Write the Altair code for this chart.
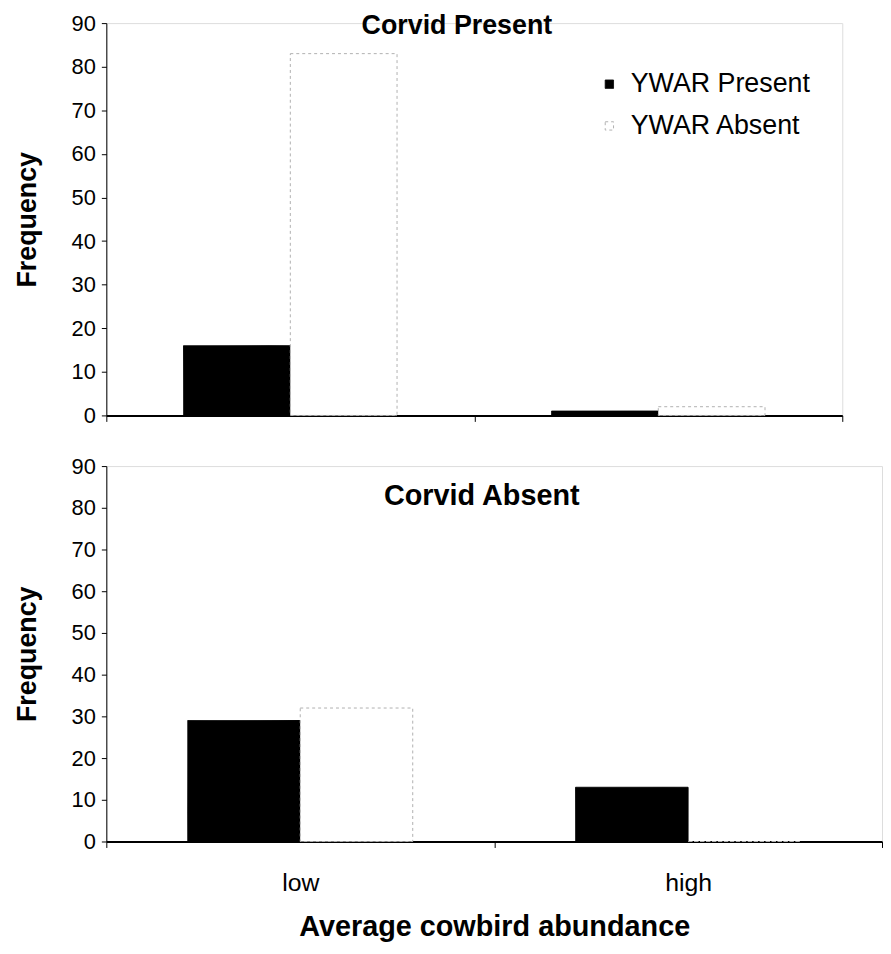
import altair as alt
import pandas as pd

abundance = ["low", "high"]
ywar = ["YWAR Present", "YWAR Absent"]
# values in order: (low, present), (low, absent), (high, present), (high, absent)
corvid_present_vals = [16, 83, 1, 2]
corvid_absent_vals = [29, 32, 13, 0]
y_ticks = [0, 10, 20, 30, 40, 50, 60, 70, 80, 90]

def make_df(vals):
    rows = []
    i = 0
    for a in abundance:
        for w in ywar:
            rows.append({"abundance": a, "ywar": w, "freq": vals[i]})
            i += 1
    return pd.DataFrame(rows)

FONT = "Liberation Sans"

def panel(vals, title_text, tx, ty, tsize, w, h, bottom, show_legend):
    df = make_df(vals)
    x_axis = alt.Axis(
        labels=bottom, title="Average cowbird abundance" if bottom else None,
        tickBand="extent", ticks=True, tickSize=6, tickColor="black",
        domainColor="black", domainWidth=2, labelAngle=0,
        labelFontSize=25, labelColor="black", labelPadding=23,
        titleFontSize=29, titleFontWeight="bold", titleColor="black",
        titlePadding=18, labelFont=FONT, titleFont=FONT,
    )
    legend = alt.Legend(
        orient="none", legendX=493, legendY=48, title=None,
        symbolType="square", symbolSize=70, symbolStrokeColor="#999999",
        symbolStrokeWidth=1, labelFontSize=27, labelFont=FONT, labelColor="black",
        rowPadding=14, labelOffset=8, padding=0, labelLimit=400,
    ) if show_legend else None
    bars = alt.Chart(df).mark_bar(strokeWidth=1).encode(
        x=alt.X("abundance:N", sort=abundance, axis=x_axis,
                scale=alt.Scale(paddingInner=0, paddingOuter=0)),
        xOffset=alt.XOffset("ywar:N", sort=ywar,
                            scale=alt.Scale(paddingInner=0, paddingOuter=0.724)),
        y=alt.Y("freq:Q", scale=alt.Scale(domain=[0, 90], nice=False),
                axis=alt.Axis(values=y_ticks, title="Frequency", grid=False,
                              tickSize=5, tickColor="black", domainColor="black",
                              labelFontSize=22, labelColor="black", labelPadding=6,
                              titleFontSize=27, titleFontWeight="bold",
                              titleColor="black", titlePadding=30,
                              labelFont=FONT, titleFont=FONT)),
        color=alt.Color("ywar:N", sort=ywar,
                        scale=alt.Scale(domain=ywar, range=["black", "white"]),
                        legend=legend),
        stroke=alt.Stroke("ywar:N", scale=alt.Scale(domain=ywar, range=["black", "#b0b0b0"]),
                          legend=None),
        strokeDash=alt.StrokeDash("ywar:N", scale=alt.Scale(domain=ywar, range=[[1, 0], [3, 3]]),
                                  legend=None),
    )
    label = alt.Chart(pd.DataFrame({"t": [title_text]})).mark_text(
        font=FONT, fontSize=tsize, fontWeight="bold", color="black"
    ).encode(text="t:N", x=alt.value(tx), y=alt.value(ty))
    return alt.layer(bars, label).properties(width=w, height=h)

top = panel(corvid_present_vals, "Corvid Present", 353, 3, 27, 741, 395, False, True)
bottom = panel(corvid_absent_vals, "Corvid Absent", 378, 30, 29, 781, 378, True, False)

chart = alt.vconcat(top, bottom, spacing=27).resolve_scale(
    x="independent", xOffset="independent", y="independent"
).properties(
    padding={"left": 5, "top": 0, "right": 0, "bottom": 0}
).configure_view(strokeWidth=0).configure(font=FONT)

chart.save("out.html", embed_options={"renderer": "svg", "actions": False})
